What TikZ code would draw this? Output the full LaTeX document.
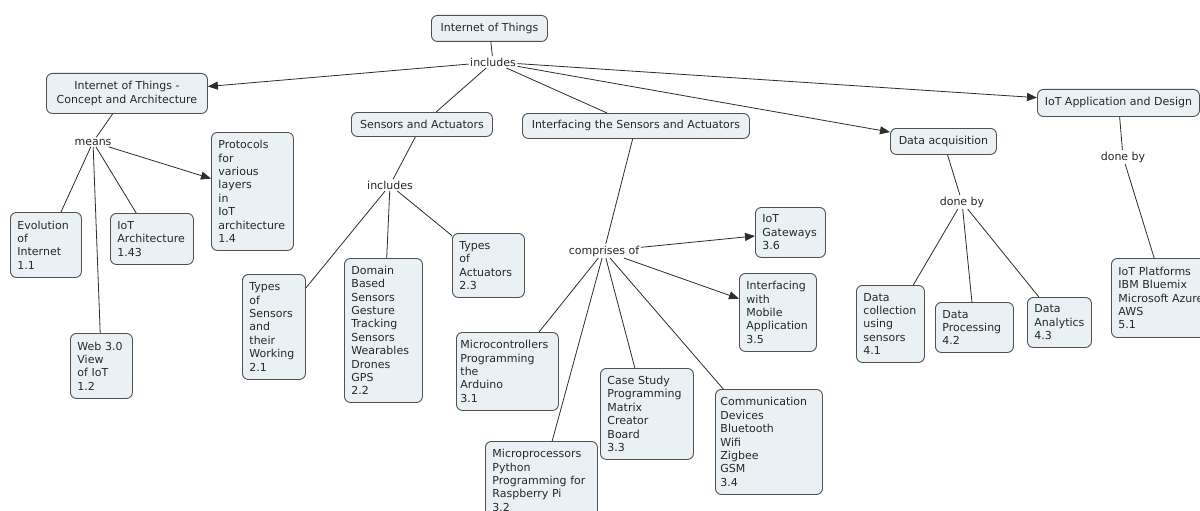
\documentclass[tikz,border=0pt]{standalone}
\usepackage{fontspec}
\setmainfont{DejaVu Sans}
\usetikzlibrary{arrows.meta}
\definecolor{boxfill}{RGB}{234,241,244}
\definecolor{boxline}{RGB}{80,80,80}
\definecolor{conncol}{RGB}{45,45,45}
\definecolor{txt}{RGB}{40,40,40}
\tikzset{
  cbox/.style={draw=boxline, fill=boxfill, rounded corners=6pt, line width=0.9pt,
    inner xsep=7pt, inner ysep=0pt, align=left, anchor=north west,
    font=\fontsize{11}{13.4}\selectfont, text=txt},
  cboxc/.style={cbox, align=center},
  lbl/.style={inner sep=1.5pt, font=\fontsize{11}{13.4}\selectfont, text=txt},
  conn/.style={draw=conncol, line width=0.8pt},
  arr/.style={conn, -{Triangle[length=10pt,width=8pt]}}
}
\begin{document}
\begin{tikzpicture}[x=1pt,y=-1pt]
\useasboundingbox (0,0) rectangle (1200,511);
\fill[white] (0,0) rectangle (1200,511);
\clip (0,0) rectangle (1200,511);

% top level
\node[cboxc, minimum width=116pt, minimum height=26pt] (iot) at (431,15) {Internet of Things};
\node[lbl] (inc1) at (493,62) {includes};

\node[cboxc, minimum width=161pt, minimum height=40pt] (concept) at (46,73) {Internet of Things -\\Concept and Architecture};
\node[cboxc, minimum width=141pt, minimum height=24pt] (sens) at (351,112) {Sensors and Actuators};
\node[cboxc, minimum width=227pt, minimum height=25pt] (interf) at (522,113) {Interfacing the Sensors and Actuators};
\node[cboxc, minimum width=106pt, minimum height=26pt] (dacq) at (890,128) {Data acquisition};
\node[cboxc, minimum width=162pt, minimum height=27pt] (iotapp) at (1037,89) {IoT Application and Design};

% labels
\node[lbl] (means) at (93,142) {means};
\node[lbl] (inc2) at (390,185) {includes};
\node[lbl] (comp) at (604,251) {comprises of};
\node[lbl] (donea) at (962,202) {done by};
\node[lbl] (doneb) at (1123,157) {done by};

% branch 1
\node[cbox, text width=68pt, minimum height=118pt] (prot) at (211,132) {Protocols\\for\\various\\layers\\in\\IoT\\architecture\\1.4};
\node[cbox, text width=57pt, minimum height=65pt] (evol) at (10,212) {Evolution\\of\\Internet\\1.1};
\node[cbox, text width=69pt, minimum height=51pt] (arch) at (110,213) {IoT\\Architecture\\1.43};
\node[cbox, text width=48pt, minimum height=65pt] (web) at (70,333) {Web~3.0\\View\\of~IoT\\1.2};

% branch 2
\node[cbox, text width=49pt, minimum height=105pt] (t21) at (242,274) {Types\\of\\Sensors\\and\\their\\Working\\2.1};
\node[cbox, text width=64pt, minimum height=144pt] (t22) at (344,258) {Domain\\Based\\Sensors\\Gesture\\Tracking\\Sensors\\Wearables\\Drones\\GPS\\2.2};
\node[cbox, text width=58pt, minimum height=64pt] (t23) at (452,233) {Types\\of\\Actuators\\2.3};

% branch 3
\node[cbox, text width=56pt, minimum height=50pt] (t36) at (755,207) {IoT\\Gateways\\3.6};
\node[cbox, text width=63pt, minimum height=78pt] (t35) at (739,273) {Interfacing\\with\\Mobile\\Application\\3.5};
\node[cbox, inner xsep=4pt, text width=94pt, minimum height=78pt] (t31) at (456,332) {Microcontrollers\\Programming\\the\\Arduino\\3.1};
\node[cbox, text width=98pt, minimum height=78pt] (t32) at (485,441) {Microprocessors\\Python\\Programming~for\\Raspberry~Pi\\3.2};
\node[cbox, text width=79pt, minimum height=91pt] (t33) at (600,368) {Case~Study\\Programming\\Matrix\\Creator\\Board\\3.3};
\node[cbox, inner xsep=5pt, text width=97pt, minimum height=105pt] (t34) at (715,389) {Communication\\Devices\\Bluetooth\\Wifi\\Zigbee\\GSM\\3.4};

% branch 4
\node[cbox, text width=54pt, minimum height=77pt] (t41) at (856,285) {Data\\collection\\using\\sensors\\4.1};
\node[cbox, text width=64pt, minimum height=50pt] (t42) at (935,302) {Data\\Processing\\4.2};
\node[cbox, text width=50pt, minimum height=50pt] (t43) at (1027,297) {Data\\Analytics\\4.3};

% branch 5
\node[cbox, text width=96pt, minimum height=79pt] (t51) at (1111,258) {IoT~Platforms\\IBM~Bluemix\\Microsoft~Azure\\AWS\\5.1};

% connectors
\draw[conn] (iot) -- (inc1);
\draw[arr] (inc1) -- (concept);
\draw[conn] (inc1) -- (sens);
\draw[conn] (inc1) -- (interf);
\draw[arr] (inc1) -- (dacq);
\draw[arr] (inc1) -- (iotapp);

\draw[conn] (concept) -- (means);
\draw[conn] (means) -- (evol);
\draw[conn] (means) -- (web);
\draw[conn] (means) -- (arch);
\draw[arr] (means) -- (prot);

\draw[conn] (sens) -- (inc2);
\draw[conn] (inc2) -- (t21);
\draw[conn] (inc2) -- (t22);
\draw[conn] (inc2) -- (t23);

\draw[conn] (interf) -- (comp);
\draw[arr] (comp) -- (t36);
\draw[arr] (comp) -- (t35);
\draw[conn] (comp) -- (t31);
\draw[conn] (comp) -- (t32);
\draw[conn] (comp) -- (t33);
\draw[conn] (comp) -- (t34);

\draw[conn] (dacq) -- (donea);
\draw[conn] (donea) -- (t41);
\draw[conn] (donea) -- (t42);
\draw[conn] (donea) -- (t43);

\draw[conn] (iotapp) -- (doneb);
\draw[conn] (doneb) -- (t51);
\end{tikzpicture}
\end{document}
